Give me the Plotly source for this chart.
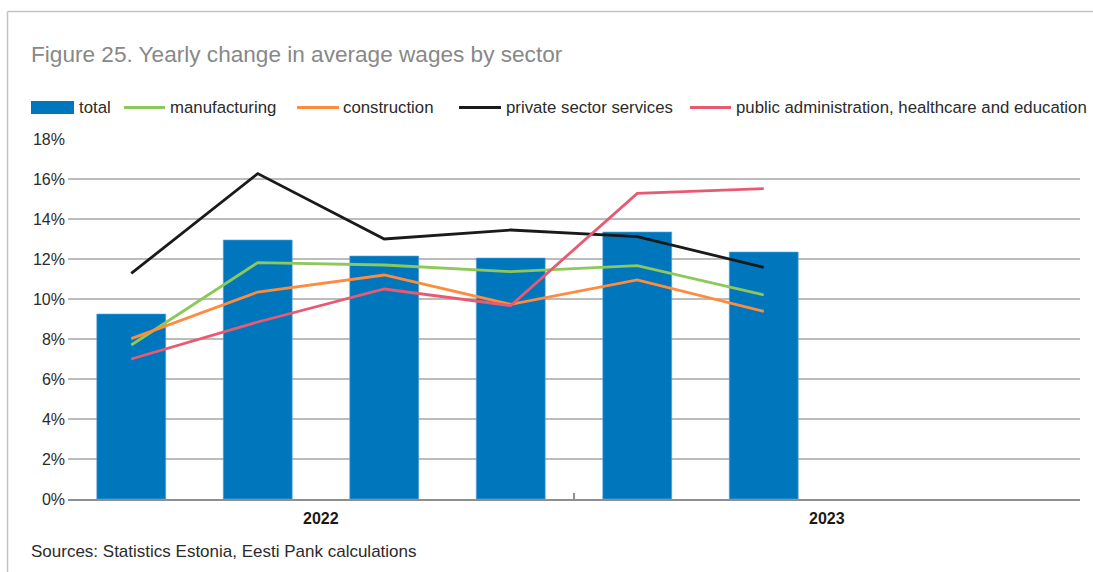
import plotly.graph_objects as go

# Quarterly categories (2022 Q1 .. 2023 Q4); values in percent
quarters = ["2022 Q1", "2022 Q2", "2022 Q3", "2022 Q4",
            "2023 Q1", "2023 Q2", "2023 Q3", "2023 Q4"]
total = [9.25, 12.95, 12.15, 12.05, 13.35, 12.35, None, None]
manufacturing = [7.7, 11.82, 11.7, 11.37, 11.67, 10.2, None, None]
construction = [8.02, 10.35, 11.2, 9.73, 10.95, 9.38, None, None]
private_services = [11.28, 16.27, 13.0, 13.45, 13.12, 11.58, None, None]
public_sector = [7.0, 8.85, 10.5, 9.67, 15.28, 15.52, None, None]

year_labels = ["2022", "2023"]
year_centers = [1.5, 5.5]
y_ticks = [0, 2, 4, 6, 8, 10, 12, 14, 16, 18]
y_tick_labels = ["0%", "2%", "4%", "6%", "8%", "10%", "12%", "14%", "16%", "18%"]

series_names = ["total", "manufacturing", "construction",
                "private sector services",
                "public administration, healthcare and education"]

BLUE = "#0077bc"
GREEN = "#8cc85a"
ORANGE = "#ff8b3d"
BLACK = "#1a1a1a"
PINK = "#e85a72"
FONT = "Liberation Sans, Arial, Helvetica, sans-serif"

W, H = 1093, 572
L, R, T, B = 68, 13, 139, 73
PW, PH = W - L - R, H - T - B


def px(x):
    return (x - L) / PW


def py(y):
    return (H - B - y) / PH


fig = go.Figure()
fig.add_trace(go.Bar(x=quarters, y=total, name=series_names[0],
                     marker=dict(color=BLUE, line=dict(color="#5fa3d6", width=0.6)),
                     showlegend=False))
for vals, name, col in [(manufacturing, series_names[1], GREEN),
                        (construction, series_names[2], ORANGE),
                        (private_services, series_names[3], BLACK),
                        (public_sector, series_names[4], PINK)]:
    fig.add_trace(go.Scatter(x=quarters, y=vals, name=name, mode="lines",
                             line=dict(color=col, width=2.8), showlegend=False))

shapes = []
annotations = []

# outer frame (left and top rules)
shapes.append(dict(type="line", xref="paper", yref="paper",
                   x0=px(7.5), x1=px(7.5), y0=py(11.5), y1=py(H + 5),
                   line=dict(color="#c2c2c2", width=1.5)))
shapes.append(dict(type="line", xref="paper", yref="paper",
                   x0=px(7.5), x1=px(W + 5), y0=py(11.5), y1=py(11.5),
                   line=dict(color="#c2c2c2", width=1.5)))

# legend row
ly = 107.5
shapes.append(dict(type="rect", xref="paper", yref="paper",
                   x0=px(31), x1=px(74), y0=py(101), y1=py(114),
                   fillcolor=BLUE, line=dict(width=0)))
legend_lines = [(124, 165, GREEN), (297, 339, ORANGE),
                (459, 501, BLACK), (690, 731, PINK)]
for x0, x1, col in legend_lines:
    shapes.append(dict(type="line", xref="paper", yref="paper",
                       x0=px(x0), x1=px(x1), y0=py(ly), y1=py(ly),
                       line=dict(color=col, width=2.8)))
legend_text_x = [77, 168, 341, 504, 734]
for tx, name in zip(legend_text_x, series_names):
    annotations.append(dict(xref="paper", yref="paper", x=px(tx), y=py(ly),
                            xanchor="left", yanchor="middle", showarrow=False,
                            text=name, font=dict(family=FONT, size=16.8, color="#2b2b2b")))

# title and source
annotations.append(dict(xref="paper", yref="paper", x=px(29), y=py(55),
                        xanchor="left", yanchor="middle", showarrow=False,
                        text="Figure 25. Yearly change in average wages by sector",
                        font=dict(family=FONT, size=22.6, color="#888888")))
annotations.append(dict(xref="paper", yref="paper", x=px(29), y=py(551),
                        xanchor="left", yanchor="middle", showarrow=False,
                        text="Sources: Statistics Estonia, Eesti Pank calculations",
                        font=dict(family=FONT, size=17, color="#2b2b2b")))

# year labels under the axis
for lab, xc in zip(year_labels, year_centers):
    annotations.append(dict(xref="x", yref="paper", x=xc, y=py(518),
                            xanchor="center", yanchor="middle", showarrow=False,
                            text=f"<b>{lab}</b>",
                            font=dict(family=FONT, size=16, color="#1a1a1a")))

fig.update_layout(
    width=W, height=H,
    margin=dict(l=L, r=R, t=T, b=B),
    paper_bgcolor="white", plot_bgcolor="white",
    bargap=0.455,
    showlegend=False,
    shapes=shapes,
    annotations=annotations,
    font=dict(family=FONT, size=16, color="#2b2b2b"),
)
fig.update_xaxes(
    type="category", categoryorder="array", categoryarray=quarters,
    range=[-0.5, 7.5],
    showgrid=False, zeroline=False,
    showline=True, linecolor="#8f8f8f", linewidth=1.5,
    ticks="inside", ticklen=6, tickwidth=1.5, tickcolor="#8f8f8f",
    tickmode="array", tickvals=[-0.5, 3.5, 7.5], ticktext=["", "", ""],
    showticklabels=False,
)
fig.update_yaxes(
    range=[0, 18], tickmode="array", tickvals=y_ticks, ticktext=y_tick_labels,
    showgrid=True, gridcolor="#bcbcbc", gridwidth=1.5,
    zeroline=False, showline=False, ticks="",
    tickfont=dict(family=FONT, size=16, color="#2b2b2b"),
    ticklabelstandoff=2,
)

fig.write_html("out.html")
